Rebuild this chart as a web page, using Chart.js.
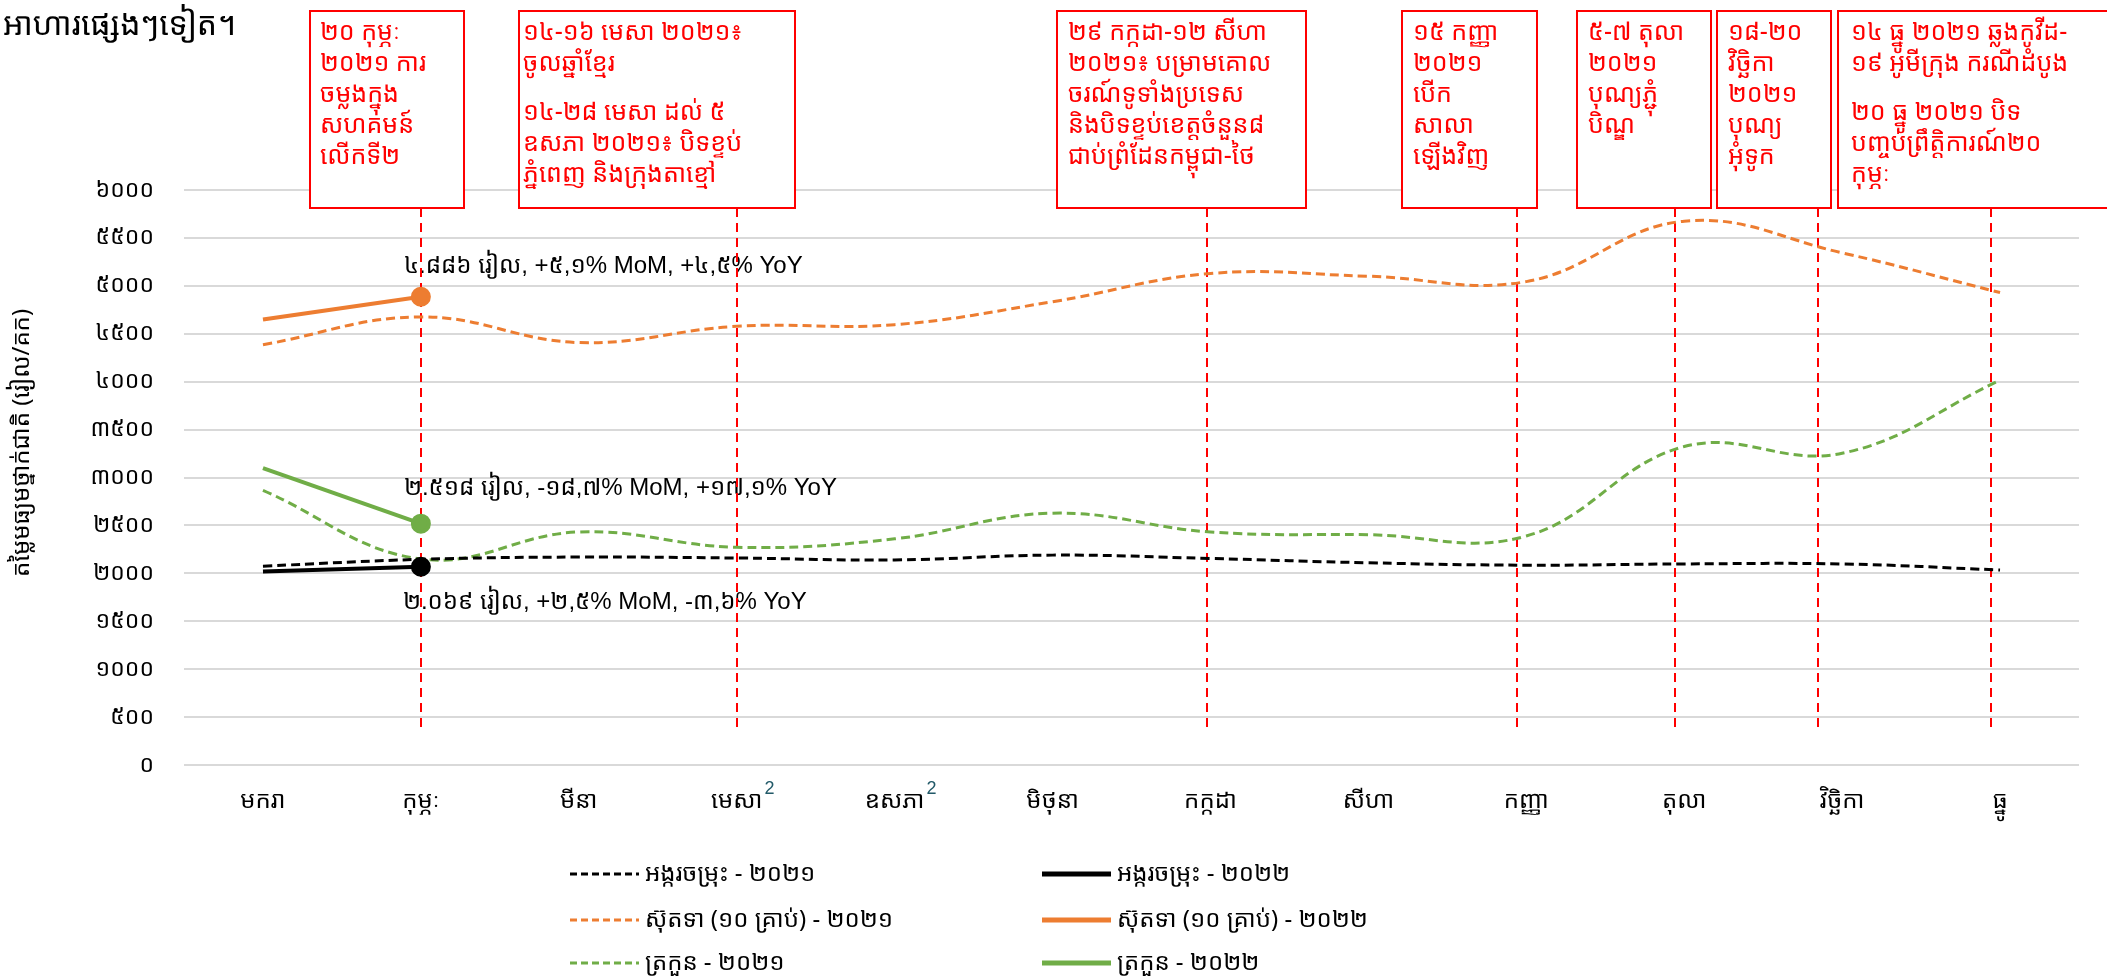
<!DOCTYPE html>
<html>
<head>
<meta charset="utf-8">
<script src="https://cdn.jsdelivr.net/npm/chart.js@4.4.1/dist/chart.umd.min.js"></script>
<style>
html,body{margin:0;padding:0;background:#fff;}
#wrap{width:2107px;height:978px;position:relative;}
</style>
</head>
<body>
<div id="wrap"><canvas id="c"></canvas></div>
<script>
// ---------------- DATA ----------------
const months = ['មករា','កុម្ភៈ','មីនា','មេសា','ឧសភា','មិថុនា','កក្កដា','សីហា','កញ្ញា','តុលា','វិច្ឆិកា','ធ្នូ'];
const monthNotes = ['','','','2','2','','','','','','',''];

const rice2021 = [2075,2146,2170,2160,2140,2190,2155,2110,2085,2098,2098,2035];
const rice2022 = [2018,2069,null,null,null,null,null,null,null,null,null,null];
const egg2021  = [4385,4676,4408,4578,4595,4834,5129,5100,5044,5675,5344,4930];
const egg2022  = [4649,4886,null,null,null,null,null,null,null,null,null,null];
const veg2021  = [2866,2150,2432,2272,2360,2628,2431,2403,2389,3323,3253,4015];
const veg2022  = [3097,2518,null,null,null,null,null,null,null,null,null,null];

const seriesLabels = [
  'អង្ករចម្រុះ - ២០២១','អង្ករចម្រុះ - ២០២២',
  'ស៊ុតទា (១០ គ្រាប់) - ២០២១','ស៊ុតទា (១០ គ្រាប់) - ២០២២',
  'ត្រកួន - ២០២១','ត្រកួន - ២០២២'
];

const yTicks = [0,500,1000,1500,2000,2500,3000,3500,4000,4500,5000,5500,6000];

const chartTitle = 'អាហារផ្សេងៗទៀត។';
const yAxisTitle = 'តម្លៃមធ្យមថ្នាក់ជាតិ (រៀល/គក)';

// callouts at Feb 2022 point (dataset index, category index, text)
const calloutTexts = [
  '៤.៨៨៦ រៀល, +៥,១% MoM, +៤,៥% YoY',
  '២.៥១៨ រៀល, -១៨,៧% MoM, +១៧,១% YoY',
  '២.០៦៩ រៀល, +២,៥% MoM, -៣,៦% YoY'
];
const calloutSeries = [3, 5, 1];
const calloutIndex = [1, 1, 1];

// event markers (fractional category positions) and their notes
const eventPositions = [1, 3, 5.98, 7.94, 8.94, 9.85, 10.94];
const eventNotes = [
  ['២០ កុម្ភៈ','២០២១ ការ','ចម្លងក្នុង','សហគមន៍','លើកទី២'],
  ['១៤-១៦ មេសា ២០២១៖','ចូលឆ្នាំខ្មែរ','¶','១៤-២៨ មេសា ដល់ ៥','ឧសភា ២០២១៖ បិទខ្ទប់','ភ្នំពេញ និងក្រុងតាខ្មៅ'],
  ['២៩ កក្កដា-១២ សីហា','២០២១៖ បម្រាមគោល','ចរណ៍ទូទាំងប្រទេស','និងបិទខ្ទប់ខេត្តចំនួន៨','ជាប់ព្រំដែនកម្ពុជា-ថៃ'],
  ['១៥ កញ្ញា','២០២១','បើក','សាលា','ឡើងវិញ'],
  ['៥-៧ តុលា','២០២១','បុណ្យភ្ជុំ','បិណ្ឌ'],
  ['១៨-២០','វិច្ឆិកា','២០២១','បុណ្យ','អុំទូក'],
  ['១៤ ធ្នូ ២០២១ ឆ្លងកូវីដ-','១៩ អូមីក្រុង ករណីដំបូង','¶','២០ ធ្នូ ២០២១ បិទ','បញ្ចប់ព្រឹត្តិការណ៍២០','កុម្ភៈ']
];

// ---------------- LAYOUT / STYLE ----------------
const KH = "'Khmer OS Battambang','Khmer OS','Noto Sans Khmer','Noto Serif Khmer','Khmer OS System',sans-serif";
const LAT = "'Liberation Sans',Arial," + KH;
const C_BLACK = '#000000', C_ORANGE = '#ED7D31', C_GREEN = '#70AD47', C_RED = '#FF0000';
const boxRects = [[310,464],[519,795],[1057,1306],[1402,1537],[1577,1711],[1717,1831],[1838,2112]];
const boxPad = [10,4,11,11,11,11,13];
const BOX_TOP = 11, BOX_BOTTOM = 208;
const calloutOffsets = [[-17,-30],[-17,-35],[-18,36]];
const legendRows = [874,920,963];
const legendCols = [570,1042];

const kd = '០១២៣៤៥៦៧៨៩';
const khDigits = v => String(v).replace(/\d/g, d => kd[+d]);

function ds(label, data, color, dashed){
  const pr = data.map((v,i)=> (!dashed && i===1) ? 8 : 0);
  return {
    label, data, borderColor: color, backgroundColor: color,
    borderWidth: dashed ? 3 : 4, borderDash: dashed ? [9,5] : [],
    tension: dashed ? 0.4 : 0, pointRadius: pr, pointHoverRadius: pr,
    pointBackgroundColor: color, pointBorderColor: color, spanGaps:false, fill:false
  };
}

const datasets = [
  ds(seriesLabels[0], rice2021, C_BLACK, true),
  ds(seriesLabels[1], rice2022, C_BLACK, false),
  ds(seriesLabels[2], egg2021, C_ORANGE, true),
  ds(seriesLabels[3], egg2022, C_ORANGE, false),
  ds(seriesLabels[4], veg2021, C_GREEN, true),
  ds(seriesLabels[5], veg2022, C_GREEN, false)
];

const overlay = {
  id: 'overlay',
  beforeDatasetsDraw(chart){
    const {ctx, scales:{x,y}} = chart;
    ctx.save();
    // callouts
    ctx.font = '24px ' + LAT;
    ctx.fillStyle = '#000'; ctx.textAlign = 'left'; ctx.textBaseline = 'middle';
    calloutTexts.forEach((t,k)=>{
      const d = chart.data.datasets[calloutSeries[k]];
      const px = x.getPixelForValue(calloutIndex[k]);
      const py = y.getPixelForValue(d.data[calloutIndex[k]]);
      ctx.fillText(t, px + calloutOffsets[k][0], py + calloutOffsets[k][1]);
    });
    // event lines
    ctx.strokeStyle = C_RED; ctx.lineWidth = 2; ctx.setLineDash([9,6]);
    const yEnd = y.getPixelForValue(365);
    eventPositions.forEach(p=>{
      const px = Math.round(x.getPixelForValue(p));
      ctx.beginPath(); ctx.moveTo(px, BOX_BOTTOM); ctx.lineTo(px, yEnd); ctx.stroke();
    });
    ctx.restore();
  },
  afterDraw(chart){
    const {ctx, scales:{x,y}} = chart;
    ctx.save();
    // title
    ctx.fillStyle = '#000'; ctx.textAlign = 'left'; ctx.textBaseline = 'middle';
    ctx.font = '32px ' + KH;
    ctx.fillText(chartTitle, 3, 26);
    // y axis title
    ctx.save();
    ctx.translate(22, 443); ctx.rotate(-Math.PI/2);
    ctx.textAlign = 'center'; ctx.font = '24px ' + KH;
    ctx.fillText(yAxisTitle, 0, 0);
    ctx.restore();
    // superscripts on month labels
    ctx.font = '24px ' + KH;
    monthNotes.forEach((n,i)=>{
      if(!n) return;
      const w = ctx.measureText(months[i]).width;
      const cx = x.getPixelForTick(i);
      ctx.save();
      ctx.font = '18px ' + LAT; ctx.fillStyle = '#215968';
      ctx.textAlign = 'left';
      ctx.fillText(n, cx + w/2 + 2, x.top + 24);
      ctx.restore();
    });
    // boxes
    eventNotes.forEach((lines,k)=>{
      const [l,r] = boxRects[k];
      ctx.fillStyle = '#fff';
      ctx.fillRect(l, BOX_TOP, r-l, BOX_BOTTOM-BOX_TOP);
      ctx.strokeStyle = C_RED; ctx.lineWidth = 2; ctx.setLineDash([]);
      ctx.strokeRect(l, BOX_TOP, r-l, BOX_BOTTOM-BOX_TOP);
      ctx.fillStyle = C_RED; ctx.font = '25px ' + KH; ctx.textAlign = 'left'; ctx.textBaseline = 'middle';
      let yy = 33;
      lines.forEach(t=>{
        if(t === '¶'){ yy += 18; return; }
        ctx.fillText(t, l + boxPad[k], yy);
        yy += 31;
      });
    });
    // legend
    ctx.font = '24px ' + KH; ctx.textBaseline = 'middle'; ctx.fillStyle = '#000';
    chart.data.datasets.forEach((d,i)=>{
      const row = Math.floor(i/2), col = i%2;
      const yy = legendRows[row], xx = legendCols[col];
      ctx.strokeStyle = d.borderColor;
      ctx.lineWidth = d.borderDash.length ? 3 : 5;
      ctx.setLineDash(d.borderDash.length ? [7,4] : []);
      ctx.beginPath(); ctx.moveTo(xx, yy); ctx.lineTo(xx + 69, yy); ctx.stroke();
      ctx.setLineDash([]);
      ctx.fillStyle = '#000';
      ctx.fillText(d.label, xx + 75, yy);
    });
    ctx.restore();
  }
};

new Chart(document.getElementById('c'), {
  type: 'line',
  data: { labels: months, datasets },
  plugins: [overlay],
  options: {
    responsive: true, maintainAspectRatio: false, animation: false,
    layout: { padding: { left: 0, right: 28, top: 190, bottom: 153 } },
    plugins: { legend: { display: false }, tooltip: { enabled: false } },
    scales: {
      x: {
        offset: true,
        grid: { display: false, drawTicks: false }, border: { display: false },
        ticks: { color: '#000', font: { size: 24, family: KH }, padding: 22, maxRotation: 0, autoSkip: false },
        afterFit(s){ s.height = 60; }
      },
      y: {
        min: 0, max: 6000,
        afterBuildTicks(s){ s.ticks = yTicks.map(v=>({value:v})); },
        grid: { color: '#D9D9D9', lineWidth: 2, drawTicks: false }, border: { display: false },
        ticks: { color: '#000', font: { size: 23, family: KH }, padding: 30, callback: v => khDigits(v) },
        afterFit(s){ s.width = 184; }
      }
    }
  }
});
</script>
</body>
</html>
